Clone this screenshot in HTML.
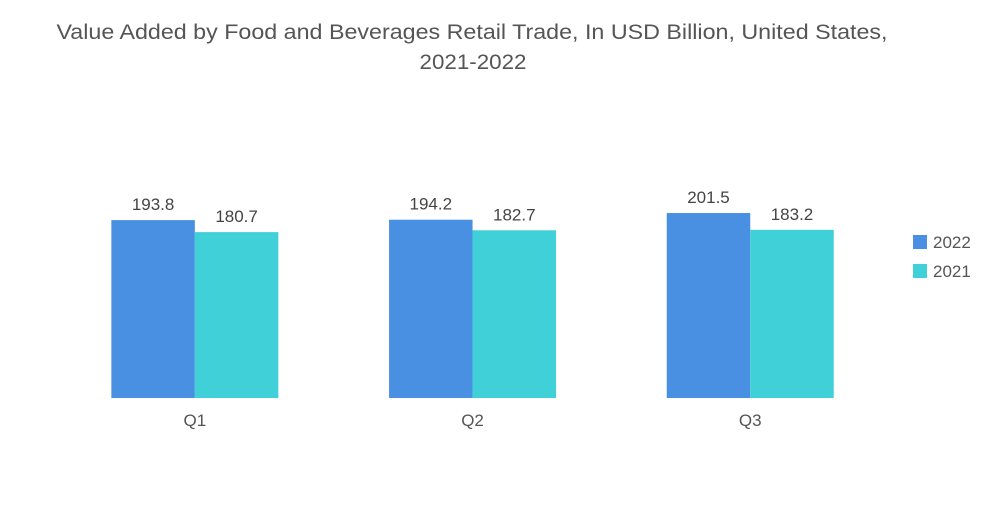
<!DOCTYPE html>
<html><head><meta charset="utf-8"><style>
body{margin:0;background:#fff;font-family:"Liberation Sans",sans-serif}
svg text{font-family:"Liberation Sans",sans-serif}
</style></head><body>
<svg id="c" width="1000" height="504">
<text x="472" y="39" text-anchor="middle" font-size="21" fill="#555" textLength="831" lengthAdjust="spacingAndGlyphs">Value Added by Food and Beverages Retail Trade, In USD Billion, United States,</text>
<text x="473" y="69" text-anchor="middle" font-size="21" fill="#555" textLength="107" lengthAdjust="spacingAndGlyphs">2021-2022</text>
<g id="bars"></g>
<rect x="913" y="235" width="14" height="14" fill="#4a90e2"/>
<text x="933" y="248" font-size="17" fill="#555">2022</text>
<rect x="913" y="264" width="14" height="14" fill="#40d0d8"/>
<text x="933" y="277" font-size="17" fill="#555">2021</text>
</svg>
<script>
const categories=["Q1","Q2","Q3"];
const series2022=[193.8,194.2,201.5];
const series2021=[180.7,182.7,183.2];
const baseY=398, pxPerUnit=0.918, left=56, band=277.7, barW=83.5;
const g=document.getElementById('bars');
const NS='http://www.w3.org/2000/svg';
function yScale(v){return baseY-v*pxPerUnit;}
function xCenter(i){return left+band*(i+0.5);}
function mk(tag,attrs){const e=document.createElementNS(NS,tag);for(const k in attrs)e.setAttribute(k,attrs[k]);g.appendChild(e);return e;}
categories.forEach((c,i)=>{
  const cx=xCenter(i);
  [[series2022,'#4a90e2',cx-barW,'2022'],[series2021,'#40d0d8',cx,'2021']].forEach(([s,col,x,nm])=>{
    const v=s[i],y=yScale(v);
    const r=mk('rect',{x:x,y:y,width:barW,height:baseY-y,fill:col});
    
    
    const t=mk('text',{x:x+barW/2,y:y-10,'text-anchor':'middle','font-size':'17',fill:'#444'});
    t.textContent=v.toFixed(1);
    
    
  });
  const l=mk('text',{x:cx,y:426,'text-anchor':'middle','font-size':'17',fill:'#555'});
  l.textContent=c;
  
  
});
</script>
</body></html>
